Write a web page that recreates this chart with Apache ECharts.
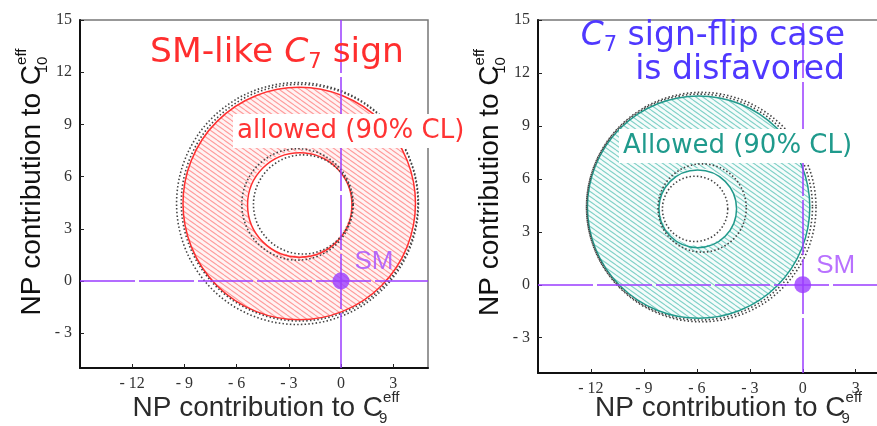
<!DOCTYPE html>
<html><head><meta charset="utf-8">
<script src="https://cdn.jsdelivr.net/npm/echarts@6/dist/echarts.min.js"></script>
<style>html,body{margin:0;padding:0;background:#fff}#c{width:877px;height:426px}</style>
</head><body><div id="c"></div>
<script>
// ---- data ----
const xTicks = [-12, -9, -6, -3, 0, 3];
const yTicks = [-3, 0, 3, 6, 9, 12, 15];
// ring: [cx, cy, rOuter, rInner]
const leftRing = [[-2.42, 4.45, 6.7, 3.0]];
const leftSolid = [[-2.4, 4.45, 6.68], [-2.37, 4.37, 3.0]];          // [cx, cy, r]
const leftDotted = [[-2.5, 4.45, 6.95], [-2.38, 4.5, 6.8], [-2.5, 4.4, 3.2], [-2.18, 4.4, 2.85]];
const rightRing = [[-5.9, 4.4, 6.3, 2.2]];
const rightSolid = [[-5.9, 4.4, 6.3], [-5.95, 4.3, 2.2]];
const rightDotted = [[-5.75, 4.4, 6.5], [-5.85, 4.4, 6.4], [-5.7, 4.35, 2.5], [-6.1, 4.3, 1.85]];
const smPoint = [[0, 0]];

const PURPLE = '#9b3dff';

function hatch(bg, fg) {
  const c = document.createElement('canvas'); c.width = 7; c.height = 5;
  const g = c.getContext('2d'); g.fillStyle = bg; g.fillRect(0, 0, 7, 5);
  g.strokeStyle = fg; g.lineWidth = 1.1;
  for (const k of [-1, 0, 1]) { g.beginPath(); g.moveTo(0, 5 * k); g.lineTo(7, 5 + 5 * k); g.stroke(); }
  return c;
}
const redHatch = hatch('#fff3f3', '#ff9a9a');
const tealHatch = hatch('#f5fcfb', '#7fd0c7');

function ringSeries(idx, data, pat) {
  return { type: 'custom', xAxisIndex: idx, yAxisIndex: idx, z: 2, silent: true, data: data,
    renderItem: function (p, api) {
      const c = api.coord([api.value(0), api.value(1)]);
      const r = api.size([api.value(2), 0])[0];
      const r0 = api.size([api.value(3), 0])[0];
      return { type: 'ring', shape: { cx: c[0], cy: c[1], r: r, r0: r0 },
        style: { fill: { image: pat, repeat: 'repeat' }, stroke: null } };
    } };
}
function circleSeries(idx, data, color, width, dash) {
  return { type: 'custom', xAxisIndex: idx, yAxisIndex: idx, z: 3, silent: true, data: data,
    renderItem: function (p, api) {
      const c = api.coord([api.value(0), api.value(1)]);
      const r = api.size([api.value(2), 0])[0];
      return { type: 'circle', shape: { cx: c[0], cy: c[1], r: r },
        style: { fill: null, stroke: color, lineWidth: width, lineDash: dash || null } };
    } };
}
function smSeries(idx) {
  return { type: 'scatter', xAxisIndex: idx, yAxisIndex: idx, z: 5, data: smPoint, symbolSize: 17,
    itemStyle: { color: PURPLE },
    label: { show: true, formatter: 'SM', position: 'right', distance: 5, offset: [0, -19],
      color: '#a64dff', fontSize: 26, fontFamily: 'Liberation Sans' },
    markLine: { silent: true, symbol: ['none', 'none'], label: { show: false },
      lineStyle: { color: PURPLE, width: 1.5, type: [55, 4] },
      data: [{ xAxis: 0 }, { yAxis: 0 }] } };
}
const nameRich = {
  m: { fontSize: 28, lineHeight: 36, fontFamily: 'Liberation Sans' },
  sb: { fontSize: 15, lineHeight: 15, verticalAlign: 'bottom', width: 0, fontFamily: 'Liberation Sans' },
  sp: { fontSize: 15, lineHeight: 18, verticalAlign: 'top', fontFamily: 'Liberation Sans' }
};
function xAx(idx, gap, pad) {
  return { type: 'value', gridIndex: idx, min: -15, max: 5, splitLine: { show: false },
    axisLine: { onZero: false, lineStyle: { color: '#111', width: 2 } },
    axisTick: { inside: true, length: 4, customValues: xTicks, lineStyle: { color: '#222' } },
    axisLabel: { customValues: xTicks, margin: 8, color: '#333', fontSize: 16, fontFamily: 'Liberation Serif',
      formatter: v => v < 0 ? '- ' + (-v) : String(v) },
    name: '{m|NP contribution to C}{sb|9}{sp|eff}', nameLocation: 'middle', nameGap: gap, nameMoveOverlap: false,
    nameTextStyle: { color: '#2b2b2b', padding: [0, 0, 0, pad], rich: nameRich } };
}
function yAx(idx, gap, pad) {
  return { type: 'value', gridIndex: idx, min: -5, max: 15, splitLine: { show: false },
    axisLine: { onZero: false, lineStyle: { color: '#111', width: 2 } },
    axisTick: { inside: true, length: 4, customValues: yTicks, lineStyle: { color: '#222' } },
    axisLabel: { customValues: yTicks, margin: 8, color: '#333', fontSize: 16, fontFamily: 'Liberation Serif',
      formatter: v => v < 0 ? '- ' + (-v) : String(v) },
    name: '{m|NP contribution to C}{sb|10}{sp|eff}', nameLocation: 'middle', nameGap: gap,
    nameTextStyle: { color: '#111', padding: [0, 0, 0, pad], rich: nameRich } };
}
const titleRich = (col, fs) => ({
  n: { fontSize: fs, lineHeight: 40, fontFamily: 'DejaVu Sans', fill: col },
  i: { fontSize: fs, lineHeight: 40, fontFamily: 'DejaVu Sans', fontStyle: 'italic', fill: col },
  s: { fontSize: 21, lineHeight: 21, verticalAlign: 'bottom', fontFamily: 'DejaVu Sans', fill: col }
});

const chart = echarts.init(document.getElementById('c'));
chart.setOption({
  animation: false,
  backgroundColor: '#fff',
  grid: [
    { left: 80, top: 20, width: 348, height: 348, show: true, borderColor: '#777', borderWidth: 1.5, outerBoundsMode: 'none', containLabel: false },
    { left: 538, top: 20, width: 353, height: 353, show: true, borderColor: '#777', borderWidth: 1.5, outerBoundsMode: 'none', containLabel: false }
  ],
  xAxis: [xAx(0, 22, 24), xAx(1, 17, 28)],
  yAxis: [yAx(0, 27, 24), yAx(1, 30, 28)],
  series: [
    ringSeries(0, leftRing, redHatch),
    circleSeries(0, leftSolid, '#ff3030', 1.5),
    circleSeries(0, leftDotted, '#444', 1.6, [1.5, 2.2]),
    smSeries(0),
    ringSeries(1, rightRing, tealHatch),
    circleSeries(1, rightSolid, '#229a8c', 1.5),
    circleSeries(1, rightDotted, '#444', 1.6, [1.5, 2.2]),
    smSeries(1)
  ],
  graphic: [
    { type: 'text', z: 100, x: 150, y: 53, style: { text: '{n|SM-like }{i|C}{s|7}{n| sign}', verticalAlign: 'middle',
      fill: '#ff2e2e', rich: titleRich('#ff2e2e', 34.5) } },
    { type: 'text', z: 100, x: 845, y: 36, style: { text: '{i|C}{s|7}{n| sign-flip case}', align: 'right', verticalAlign: 'middle',
      fill: '#4f38ff', rich: titleRich('#4f38ff', 33) } },
    { type: 'text', z: 100, x: 845, y: 70, style: { text: '{n|is disfavored}', align: 'right', verticalAlign: 'middle',
      fill: '#4f38ff', rich: titleRich('#4f38ff', 33) } },
    { type: 'text', z: 100, x: 233, y: 131, style: { text: 'allowed (90% CL)', verticalAlign: 'middle',
      fill: '#ff3333', font: '26px "DejaVu Sans"', backgroundColor: '#fff', padding: [4, 4, 4, 4] } },
    { type: 'text', z: 100, x: 619, y: 146, style: { text: 'Allowed (90% CL)', verticalAlign: 'middle',
      fill: '#1f9a8c', font: '26px "DejaVu Sans"', backgroundColor: '#fff', padding: [4, 4, 4, 4] } }
  ]
});
</script></body></html>
